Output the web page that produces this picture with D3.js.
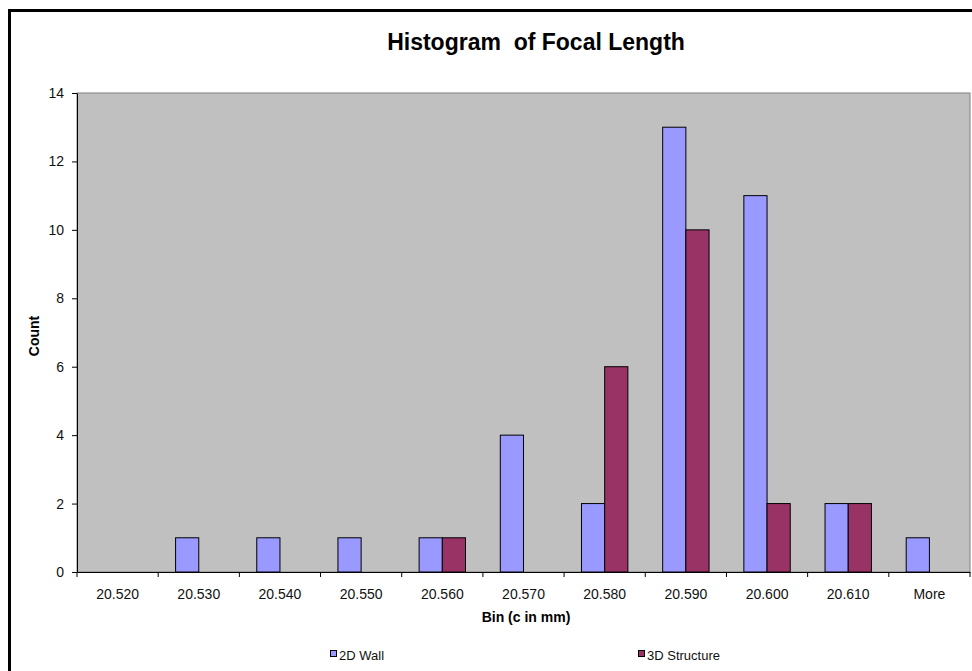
<!DOCTYPE html>
<html>
<head>
<meta charset="utf-8">
<script src="https://cdn.jsdelivr.net/npm/d3@7"></script>
<style>
  html, body { margin: 0; padding: 0; background: #fff; }
  svg { display: block; font-family: Arial, "Liberation Sans", sans-serif; }
</style>
</head>
<body>
<svg id="chart" width="972" height="671"></svg>
<script>
// Histogram bins and counts for each series
const bins = ["20.520", "20.530", "20.540", "20.550", "20.560", "20.570", "20.580", "20.590", "20.600", "20.610", "More"];
const wallCounts = [0, 1, 1, 1, 1, 4, 2, 13, 11, 2, 1];
const structureCounts = [0, 0, 0, 0, 1, 0, 6, 10, 2, 2, 0];
const seriesNames = ["2D Wall", "3D Structure"];
const seriesColors = ["#9999FF", "#993366"];
const yTicks = [0, 2, 4, 6, 8, 10, 12, 14];

const svg = d3.select("#chart");
const W = 972, H = 671;
const plot = { left: 77, top: 93, right: 970, bottom: 572 };

// Outer chart frame
svg.append("rect")
  .attr("x", 9.5).attr("y", 10.5)
  .attr("width", W + 20).attr("height", H + 20)
  .attr("fill", "#fff").attr("stroke", "#000").attr("stroke-width", 3);

// Title
svg.append("text")
  .attr("x", 536).attr("y", 50)
  .attr("text-anchor", "middle")
  .attr("font-size", 23).attr("font-weight", "bold")
  .attr("fill", "#000")
  .style("white-space", "pre")
  .text("Histogram  of Focal Length");

const x = d3.scaleBand().domain(bins).range([plot.left, plot.right]).paddingInner(0).paddingOuter(0);
const y = d3.scaleLinear().domain([0, 14]).range([plot.bottom, plot.top]);

// Plot area background
svg.append("rect")
  .attr("x", plot.left).attr("y", plot.top)
  .attr("width", plot.right - plot.left).attr("height", plot.bottom - plot.top)
  .attr("fill", "#C0C0C0").attr("stroke", "#808080").attr("stroke-width", 1);

// Clustered bars: gap between clusters is 1.5 bar widths
const inner = d3.scaleBand().domain([0, 1])
  .range([0, x.bandwidth()])
  .paddingInner(0)
  .paddingOuter(0.75);

const seriesData = [wallCounts, structureCounts];
seriesData.forEach((vals, si) => {
  svg.append("g").selectAll("rect")
    .data(vals.map((v, i) => ({ bin: bins[i], v })))
    .join("rect")
    .filter(d => d.v > 0)
    .attr("x", d => x(d.bin) + inner(si))
    .attr("y", d => y(d.v))
    .attr("width", inner.bandwidth())
    .attr("height", d => y(0) - y(d.v))
    .attr("fill", seriesColors[si])
    .attr("stroke", "#000").attr("stroke-width", 1);
});

// Y axis
const yAxis = svg.append("g")
  .attr("transform", `translate(${plot.left},0)`)
  .call(d3.axisLeft(y).tickValues(yTicks).tickSize(5).tickSizeOuter(0).tickFormat(d3.format("d")));
yAxis.attr("font-size", 14).attr("font-family", "Arial, 'Liberation Sans', sans-serif");
yAxis.select(".domain").attr("stroke", "#000");
yAxis.selectAll(".tick line").attr("stroke", "#000");
yAxis.selectAll("text").attr("fill", "#111").attr("x", -13);

// X axis with ticks on bin boundaries
const xAxis = svg.append("g")
  .attr("transform", `translate(0,${plot.bottom})`)
  .call(d3.axisBottom(x).tickSize(0).tickSizeOuter(0));
xAxis.attr("font-size", 14).attr("font-family", "Arial, 'Liberation Sans', sans-serif");
xAxis.select(".domain").attr("stroke", "#000");
xAxis.selectAll("text").attr("fill", "#111").attr("dy", 0).attr("y", 27);
const boundaries = bins.map(b => x(b)).concat([plot.right]);
xAxis.selectAll(".boundary").data(boundaries).join("line")
  .attr("x1", d => d).attr("x2", d => d)
  .attr("y1", 0).attr("y2", 5)
  .attr("stroke", "#000");

// Axis titles
svg.append("text")
  .attr("transform", `translate(39,336) rotate(-90)`)
  .attr("text-anchor", "middle")
  .attr("font-size", 14).attr("font-weight", "bold")
  .text("Count");

svg.append("text")
  .attr("x", 526).attr("y", 622)
  .attr("text-anchor", "middle")
  .attr("font-size", 14).attr("font-weight", "bold")
  .text("Bin (c in mm)");

// Legend
const legendX = [330, 638];
seriesNames.forEach((name, i) => {
  const g = svg.append("g").attr("transform", `translate(${legendX[i]},655)`);
  g.append("rect").attr("x", 0.5).attr("y", -4.5).attr("width", 6).attr("height", 6)
    .attr("fill", seriesColors[i]).attr("stroke", "#000").attr("stroke-width", 1);
  g.append("text").attr("x", 9).attr("y", 5)
    .attr("font-size", 13).attr("fill", "#111").text(name);
});
</script>
</body>
</html>
